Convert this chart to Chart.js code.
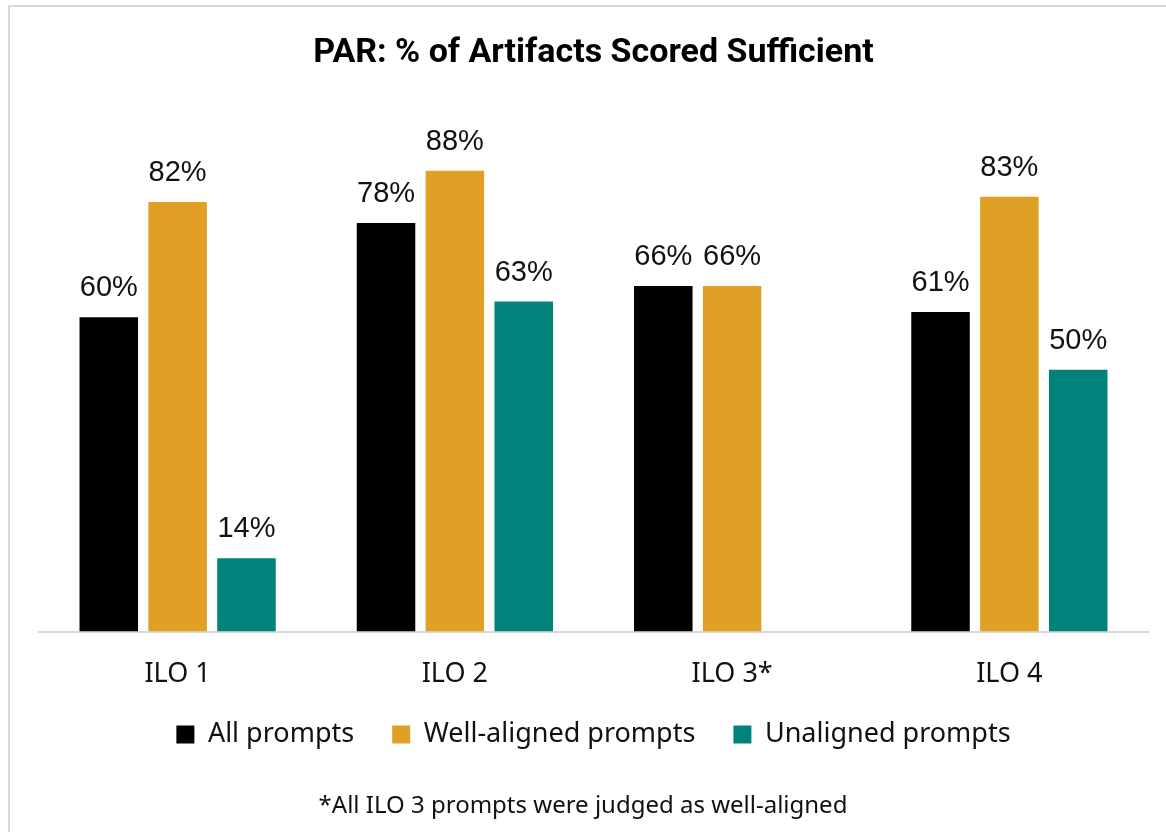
<!DOCTYPE html>
<html>
<head>
<meta charset="utf-8">
<script src="https://cdn.jsdelivr.net/npm/chart.js@4"></script>
<style>
  body { margin: 0; background: #fff; }
  #frame { position: absolute; left: 8px; top: 5px; width: 1200px; height: 900px; border: 2px solid #d9d9d9; }
  #wrap { position: absolute; left: 0; top: 0; width: 1166px; height: 832px; }
</style>
</head>
<body>
<div id="frame"></div>
<div id="wrap"><canvas id="myChart" width="1166" height="832"></canvas></div>
<script>
const categories = ['ILO 1', 'ILO 2', 'ILO 3*', 'ILO 4'];
const allPrompts = [60, 78, 66, 61];
const wellAligned = [82, 88, 66, 83];
const unaligned = [14, 63, null, 50];
const seriesNames = ['All prompts', 'Well-aligned prompts', 'Unaligned prompts'];
const seriesColors = ['#000000', '#e0a026', '#00837b'];
const chartTitle = 'PAR: % of Artifacts Scored Sufficient';
const footnote = '*All ILO 3 prompts were judged as well-aligned';

// percent labels above each bar + footnote centred on the canvas
const barLabels = {
  id: 'barLabels',
  afterDatasetsDraw(chart) {
    const ctx = chart.ctx;
    ctx.save();
    ctx.font = '29px "Liberation Sans", Arial, sans-serif';
    ctx.fillStyle = '#111';
    ctx.textAlign = 'center';
    ctx.textBaseline = 'alphabetic';
    chart.data.datasets.forEach(function(ds, i) {
      const meta = chart.getDatasetMeta(i);
      meta.data.forEach(function(bar, j) {
        const v = ds.data[j];
        if (v === null || v === undefined) return;
        ctx.fillText(v + '%', bar.x, bar.y - 21);
      });
    });
    ctx.restore();
  },
  afterDraw(chart) {
    const ctx = chart.ctx;
    ctx.save();
    ctx.font = '24px "Noto Sans", sans-serif';
    ctx.fillStyle = '#111';
    ctx.textAlign = 'center';
    ctx.textBaseline = 'middle';
    ctx.fillText(footnote, chart.width / 2, chart.height - 26);
    ctx.restore();
  }
};

const ctx = document.getElementById('myChart');
const myChart = new Chart(ctx, {
  type: 'bar',
  data: {
    labels: categories,
    datasets: [
      { label: seriesNames[0], data: allPrompts, backgroundColor: seriesColors[0] },
      { label: seriesNames[1], data: wellAligned, backgroundColor: seriesColors[1] },
      { label: seriesNames[2], data: unaligned, backgroundColor: seriesColors[2] }
    ]
  },
  options: {
    responsive: false,
    maintainAspectRatio: false,
    animation: false,
    categoryPercentage: 0.745,
    barPercentage: 0.85,
    layout: { padding: { left: 39, right: 18, top: 0, bottom: 74 } },
    scales: {
      x: {
        grid: { display: false, drawTicks: false },
        border: { display: true, color: '#d9d9d9', width: 2 },
        ticks: { color: '#111', padding: 27, font: { family: '"Noto Sans", sans-serif', size: 27 } },
        // let the legend sit closer to the tick labels
        afterFit: function(scale) { scale.height -= 35; }
      },
      y: {
        display: false,
        min: 0,
        max: 100
      }
    },
    plugins: {
      title: {
        display: true,
        text: chartTitle,
        fullSize: false,
        color: '#000',
        font: { family: 'Roboto, sans-serif', size: 34, weight: 'bold' },
        padding: { top: 33, bottom: 34 }
      },
      legend: {
        position: 'bottom',
        fullSize: false,
        labels: {
          color: '#111',
          boxWidth: 18,
          boxHeight: 18,
          padding: 38,
          font: { family: '"Noto Sans", sans-serif', size: 27 }
        }
      },
      tooltip: { enabled: false }
    }
  },
  plugins: [barLabels]
});
</script>
</body>
</html>
